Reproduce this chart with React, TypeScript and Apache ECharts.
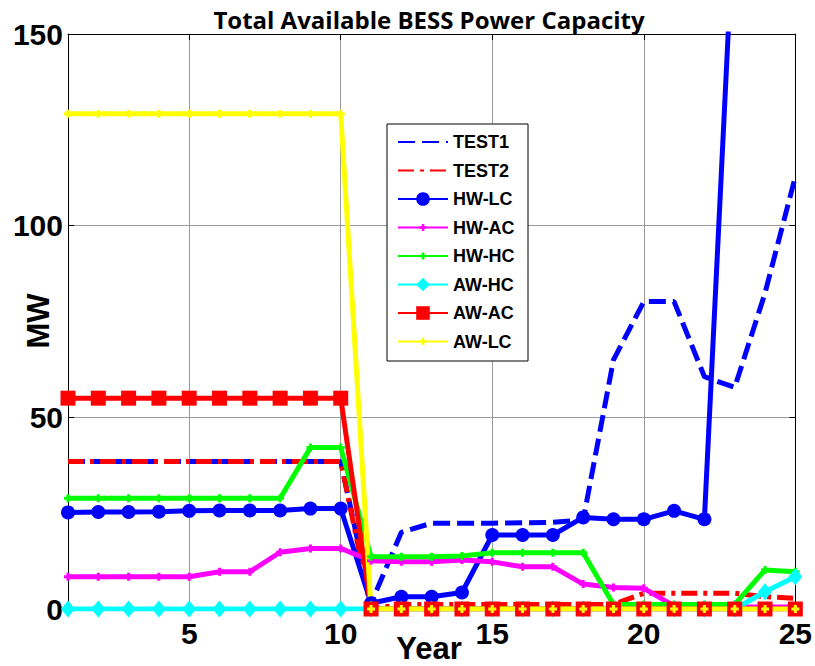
import React, { useEffect, useRef } from "react";
import * as echarts from "echarts";

const years = [1, 2, 3, 4, 5, 6, 7, 8, 9, 10, 11, 12, 13, 14, 15, 16, 17, 18, 19, 20, 21, 22, 23, 24, 25];
const xTickValues = [5, 10, 15, 20, 25];
const titleText = "Total Available BESS Power Capacity";
const xName = "Year";
const yName = "MW";

const test1 = [38.5, 38.5, 38.5, 38.5, 38.5, 38.5, 38.5, 38.5, 38.5, 38.5, 1.5, 20, 22.4, 22.4, 22.4, 22.5, 22.6, 23.2, 65, 80.2, 80.2, 60.6, 57.8, 82.4, 112.8];
const test2 = [38.5, 38.5, 38.5, 38.5, 38.5, 38.5, 38.5, 38.5, 38.5, 38.5, 0, 1.2, 1.2, 1.2, 1.2, 1.2, 1.2, 1.2, 1.2, 4.1, 4.1, 4.1, 4.1, 3.2, 2.8];
const hwLc = [25.2, 25.3, 25.3, 25.4, 25.6, 25.7, 25.7, 25.7, 26.2, 26.2, 1.5, 3.2, 3.2, 4.3, 19.3, 19.3, 19.3, 23.9, 23.4, 23.4, 25.6, 23.4, 185, 260, 330];
const hwAc = [8.4, 8.4, 8.4, 8.4, 8.4, 9.7, 9.7, 14.8, 15.8, 15.8, 12.6, 12.3, 12.3, 12.8, 12.3, 11, 11, 6.5, 5.6, 5.4, 0.8, 0.5, 0.5, 0.5, 0.5];
const hwHc = [28.9, 28.9, 28.9, 28.9, 28.9, 28.9, 28.9, 28.9, 42.1, 42.1, 13.6, 13.6, 13.6, 13.8, 14.7, 14.7, 14.7, 14.7, 1.2, 1.2, 1.2, 1.2, 1.2, 10.2, 9.7];
const awHc = [0, 0, 0, 0, 0, 0, 0, 0, 0, 0, 0, 0, 0, 0, 0, 0, 0, 0, 0, 0, 0, 0, 0, 4.5, 8.4];
const awAc = [55, 55, 55, 55, 55, 55, 55, 55, 55, 55, 0, 0, 0, 0, 0, 0, 0, 0, 0, 0, 0, 0, 0, 0, 0];
const awLc = [129.2, 129.2, 129.2, 129.2, 129.2, 129.2, 129.2, 129.2, 129.2, 129.2, 0, 0, 0, 0, 0, 0, 0, 0, 0, 0, 0, 0, 0, 0, 0];

const seriesNames = ["TEST1", "TEST2", "HW-LC", "HW-AC", "HW-HC", "AW-HC", "AW-AC", "AW-LC"];
const noMarkerNames = ["TEST1", "TEST2"];

const pair = (vals: number[]) => years.map((y, i) => [y, vals[i]]);

// plus marker inside a larger (invisible) bounding box
const plusSym = "path://M0,0M16,16M6.5,4h3v2.5h2.5v3h-2.5v2.5h-3v-2.5h-2.5v-3h2.5z";
const axisFont = "'Liberation Sans', Arial, sans-serif";

export default function App() {
  const ref = useRef<HTMLDivElement>(null);
  useEffect(() => {
    const chart = echarts.init(ref.current!, null, { renderer: "svg" });
    const lineBase = (name: string, vals: number[], color: string, extra: any) => ({
      name,
      type: "line",
      data: pair(vals),
      clip: true,
      silent: true,
      color,
      lineStyle: { width: 5, color },
      itemStyle: { color },
      ...extra,
    });
    const option: any = {
      animation: false,
      backgroundColor: "#fff",
      grid: { left: 68, right: 18, top: 34, bottom: 57 },
      xAxis: [
        {
          type: "value",
          min: 1,
          max: 25,
          axisLine: { show: true, lineStyle: { color: "#000", width: 1 } },
          axisTick: { show: true, inside: true, length: 6, customValues: xTickValues, lineStyle: { color: "#000" } },
          axisLabel: {
            customValues: xTickValues,
            margin: 9,
            fontSize: 30,
            fontWeight: "bold",
            fontFamily: axisFont,
            color: "#000",
          },
          splitLine: { show: true, lineStyle: { color: "#999", width: 1 } },
        },
        {
          type: "value",
          position: "top",
          min: 1,
          max: 25,
          axisLine: { show: true, onZero: false, lineStyle: { color: "#000", width: 1 } },
          axisTick: { show: true, inside: true, length: 6, customValues: xTickValues, lineStyle: { color: "#000" } },
          axisLabel: { show: false },
          splitLine: { show: false },
        },
      ],
      yAxis: [
        {
          type: "value",
          min: 0,
          max: 150,
          interval: 50,
          axisLine: { show: true, lineStyle: { color: "#000", width: 1 } },
          axisTick: { show: true, inside: true, length: 6, lineStyle: { color: "#000" } },
          axisLabel: {
            margin: 5,
            fontSize: 30,
            fontWeight: "bold",
            fontFamily: axisFont,
            color: "#000",
          },
          splitLine: { show: true, lineStyle: { color: "#999", width: 1 } },
        },
        {
          type: "value",
          position: "right",
          min: 0,
          max: 150,
          interval: 50,
          axisLine: { show: true, onZero: false, lineStyle: { color: "#000", width: 1 } },
          axisTick: { show: true, inside: true, length: 6, lineStyle: { color: "#000" } },
          axisLabel: { show: false },
          splitLine: { show: false },
        },
      ],
      legend: {
        data: seriesNames.map((n) =>
          noMarkerNames.includes(n) ? { name: n, itemStyle: { opacity: 0, borderWidth: 0 } } : { name: n }
        ),
        orient: "vertical",
        left: 397,
        top: 133,
        padding: 0,
        itemWidth: 50,
        itemHeight: 17,
        itemGap: 10.5,
        z: 20,
        textStyle: {
          fontFamily: axisFont,
          fontWeight: "bold",
          fontSize: 18,
          color: "#000",
          lineHeight: 17,
        },
        selectedMode: false,
      },
      graphic: [
        {
          type: "rect",
          z: 15,
          shape: { x: 387, y: 124, width: 141, height: 237 },
          style: { fill: "#fff", stroke: "#000", lineWidth: 1 },
        },
        {
          type: "text",
          z: 20,
          x: 429,
          y: 19,
          style: {
            text: titleText,
            font: "bold 24px 'Open Sans', 'Noto Sans', sans-serif",
            fill: "#000",
            align: "center",
            verticalAlign: "middle",
          },
        },
        {
          type: "text",
          z: 20,
          x: 429,
          y: 648,
          style: {
            text: xName,
            font: "bold 31px 'Liberation Sans', Arial, sans-serif",
            fill: "#000",
            align: "center",
            verticalAlign: "middle",
          },
        },
        {
          type: "text",
          z: 20,
          x: 38,
          y: 321,
          rotation: Math.PI / 2,
          style: {
            text: yName,
            font: "bold 31px 'Liberation Sans', Arial, sans-serif",
            fill: "#000",
            align: "center",
            verticalAlign: "middle",
          },
        },
      ],
      series: [
        lineBase("TEST1", test1, "#0000ff", { symbol: "none", lineStyle: { width: 5, color: "#0000ff", type: [17, 7] } }),
        lineBase("TEST2", test2, "#ff0000", { symbol: "none", lineStyle: { width: 5, color: "#ff0000", type: [16, 6, 4, 6] } }),
        lineBase("HW-LC", hwLc, "#0000ff", { symbol: "circle", symbolSize: 14 }),
        lineBase("HW-AC", hwAc, "#ff00ff", { symbol: plusSym, symbolSize: 16 }),
        lineBase("HW-HC", hwHc, "#00ff00", { symbol: plusSym, symbolSize: 16 }),
        lineBase("AW-HC", awHc, "#00ffff", { symbol: "diamond", symbolSize: [14, 17] }),
        lineBase("AW-AC", awAc, "#ff0000", { symbol: "rect", symbolSize: 15 }),
        lineBase("AW-LC", awLc, "#ffff00", { symbol: plusSym, symbolSize: 16 }),
      ],
    };
    chart.setOption(option);
    return () => chart.dispose();
  }, []);
  return <div ref={ref} style={{ position: "absolute", left: 0, top: 0, width: 815, height: 666 }} />;
}
